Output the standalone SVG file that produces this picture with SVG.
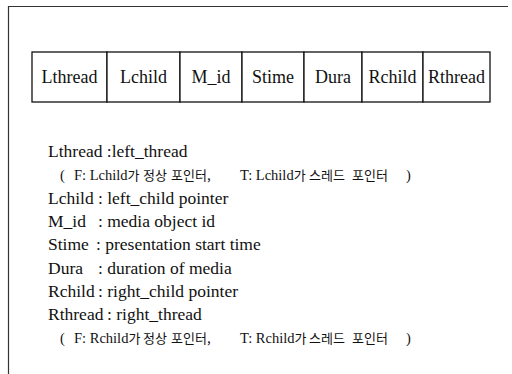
<svg xmlns="http://www.w3.org/2000/svg" width="512" height="374" viewBox="0 0 512 374">
<style>
.frame{fill:none;stroke:#333;stroke-width:1.2}
.cell{fill:#fff;stroke:#111;stroke-width:1.3}
.t{font-family:"Liberation Serif","Noto Sans CJK KR",serif;font-size:17.5px;fill:#111}
.tc{text-anchor:middle;font-size:18px}
.s{font-family:"Liberation Serif","Noto Sans CJK KR",serif;font-size:14.5px;fill:#111}
.k{font-family:"Noto Sans CJK KR",sans-serif;font-size:13px}
</style>
<rect width="512" height="374" fill="#fff"/>
<g id="frame">
<path class="frame" d="M8.5,374 V6.5 H508"/>
</g>
<g id="record">
<g id="f-lthread"><rect class="cell" x="32" y="52" width="75" height="50"/><text class="t tc" x="69.5" y="83">Lthread</text></g>
<g id="f-lchild"><rect class="cell" x="107" y="52" width="73" height="50"/><text class="t tc" x="143.5" y="83">Lchild</text></g>
<g id="f-mid"><rect class="cell" x="180" y="52" width="62" height="50"/><text class="t tc" x="211" y="83">M_id</text></g>
<g id="f-stime"><rect class="cell" x="242" y="52" width="62" height="50"/><text class="t tc" x="273" y="83">Stime</text></g>
<g id="f-dura"><rect class="cell" x="304" y="52" width="58" height="50"/><text class="t tc" x="333" y="83">Dura</text></g>
<g id="f-rchild"><rect class="cell" x="362" y="52" width="61" height="50"/><text class="t tc" x="392.5" y="83">Rchild</text></g>
<g id="f-rthread"><rect class="cell" x="423" y="52" width="67" height="50"/><text class="t tc" x="456.5" y="83">Rthread</text></g>
</g>
<g id="connectors"></g>
<g id="legend">
<text class="t" x="48" y="157">Lthread :left_thread</text>
<text class="s" y="180.3"><tspan x="60">(</tspan><tspan x="74">F: Lchild<tspan class="k">가</tspan></tspan><tspan class="k" x="143">정상</tspan><tspan class="k" x="171">포인터,</tspan><tspan x="240">T: Lchild<tspan class="k">가</tspan></tspan><tspan class="k" x="309">스레드</tspan><tspan class="k" x="352">포인터</tspan><tspan x="406">)</tspan></text>
<text class="t" y="203.6"><tspan x="48">Lchild</tspan><tspan x="98">: left_child pointer</tspan></text>
<text class="t" y="226.9"><tspan x="48">M_id</tspan><tspan x="98">: media object id</tspan></text>
<text class="t" y="250.2"><tspan x="48">Stime</tspan><tspan x="96">: presentation start time</tspan></text>
<text class="t" y="273.5"><tspan x="48">Dura</tspan><tspan x="98">: duration of media</tspan></text>
<text class="t" y="296.8"><tspan x="48">Rchild</tspan><tspan x="98">: right_child pointer</tspan></text>
<text class="t" y="320.1"><tspan x="48">Rthread</tspan><tspan x="107">: right_thread</tspan></text>
<text class="s" y="343.4"><tspan x="60">(</tspan><tspan x="74">F: Rchild<tspan class="k">가</tspan></tspan><tspan class="k" x="143">정상</tspan><tspan class="k" x="171">포인터,</tspan><tspan x="240">T: Rchild<tspan class="k">가</tspan></tspan><tspan class="k" x="309">스레드</tspan><tspan class="k" x="352">포인터</tspan><tspan x="406">)</tspan></text>
</g>
</svg>
